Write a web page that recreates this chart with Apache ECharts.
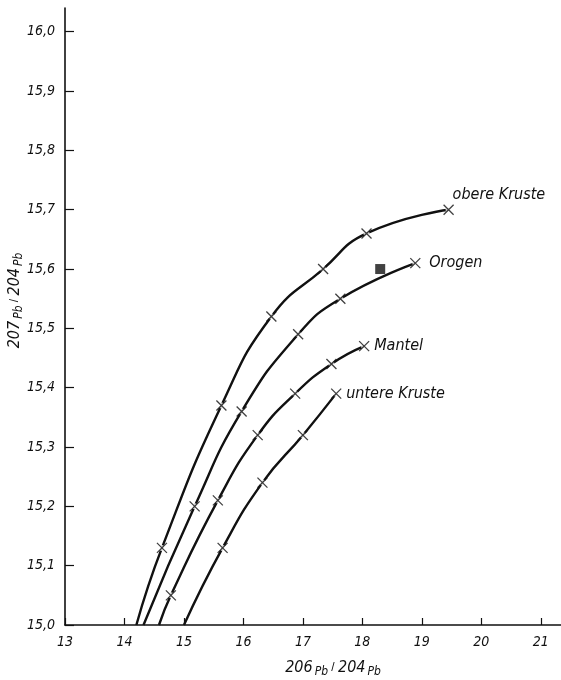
<!DOCTYPE html>
<html>
<head>
<meta charset="utf-8">
<script src="https://cdn.jsdelivr.net/npm/echarts@6/dist/echarts.min.js"></script>
<style>
  html, body { margin: 0; background: #fff; }
  #chart { width: 561px; height: 680px; }
</style>
</head>
<body>
<div id="chart"></div>
<script>
// tick labels
const xTicks = [13, 14, 15, 16, 17, 18, 19, 20, 21];
const yTicks = [15.0, 15.1, 15.2, 15.3, 15.4, 15.5, 15.6, 15.7, 15.8, 15.9, 16.0];

// growth curves: [206Pb/204Pb, 207Pb/204Pb]; first point is where the curve leaves the axis
const obereKruste = [[14.20, 15.00], [14.63, 15.13], [15.63, 15.37], [16.47, 15.52], [17.34, 15.60], [18.07, 15.66], [19.45, 15.70]];
const orogen = [[14.32, 15.00], [15.18, 15.20], [15.97, 15.36], [16.92, 15.49], [17.63, 15.55], [18.89, 15.61]];
const mantel = [[14.58, 15.00], [14.78, 15.05], [15.57, 15.21], [16.24, 15.32], [16.87, 15.39], [17.48, 15.44], [18.03, 15.47]];
const untereKruste = [[15.00, 15.00], [15.65, 15.13], [16.32, 15.24], [17.00, 15.32], [17.56, 15.39]];
const sample = [[18.30, 15.60]];

const curves = [
  { name: 'obere Kruste', data: obereKruste },
  { name: 'Orogen', data: orogen },
  { name: 'Mantel', data: mantel },
  { name: 'untere Kruste', data: untereKruste }
];

// where each curve's name sits relative to its last cross
const LABEL_OFFSET = {
  'obere Kruste': [-6, -15],
  'Orogen': [4, 0],
  'Mantel': [0, 0],
  'untere Kruste': [0, 0]
};

const FONT = '"DejaVu Sans Condensed", "Liberation Sans Narrow", sans-serif';
const CROSS = 'path://M0,0L10,10M10,0L0,10';
const fmt = v => v.toFixed(1).replace('.', ',');

const nameRich = {
  n: { fontFamily: FONT, fontStyle: 'italic', fontSize: 16, color: '#111' },
  p: { fontFamily: FONT, fontStyle: 'italic', fontSize: 12, color: '#111', padding: [8, 0, 0, 2] }
};

const chart = echarts.init(document.getElementById('chart'));

const series = [];
for (const c of curves) {
  series.push({
    name: c.name,
    type: 'line',
    data: c.data,
    smooth: 0.5,
    symbol: 'none',
    lineStyle: { color: '#111', width: 2.4 },
    z: 2,
    endLabel: {
      show: true,
      formatter: c.name,
      color: '#111',
      fontFamily: FONT,
      fontStyle: 'italic',
      fontSize: 16,
      distance: 10,
      offset: LABEL_OFFSET[c.name]
    }
  });
  // small white breaks in the line around each cross
  series.push({
    type: 'scatter',
    data: c.data.slice(1),
    symbol: 'circle',
    symbolSize: 6,
    itemStyle: { color: '#fff' },
    silent: true,
    z: 3
  });
  series.push({
    type: 'scatter',
    data: c.data.slice(1),
    symbol: CROSS,
    symbolSize: 10,
    itemStyle: { color: 'rgba(0,0,0,0)', borderColor: '#111', borderWidth: 1.3 },
    silent: true,
    z: 4
  });
}
series.push({
  type: 'scatter',
  data: sample,
  symbol: 'rect',
  symbolSize: 10,
  itemStyle: { color: '#111' },
  z: 5
});

chart.setOption({
  animation: false,
  backgroundColor: '#fff',
  grid: { left: 65, right: 0, top: 8, bottom: 55, outerBoundsMode: 'none', containLabel: false },
  xAxis: {
    type: 'value',
    min: 13,
    max: 21.34,
    name: '{n|206}{p|Pb} / {n|204}{p|Pb}',
    nameLocation: 'middle',
    nameMoveOverlap: false,
    nameGap: 33,
    nameTextStyle: { padding: [0, 0, 0, 40], rich: nameRich },
    axisLine: { lineStyle: { color: '#111', width: 1.6 } },
    axisTick: { inside: true, length: 7, lineStyle: { color: '#111', width: 1.2 }, customValues: xTicks },
    axisLabel: {
      customValues: xTicks,
      margin: 10,
      color: '#111',
      fontFamily: FONT,
      fontStyle: 'italic',
      fontSize: 14
    },
    splitLine: { show: false }
  },
  yAxis: {
    type: 'value',
    min: 15,
    max: 16.04,
    name: '{n|207}{p|Pb} / {n|204}{p|Pb}',
    nameLocation: 'middle',
    nameRotate: 90,
    nameMoveOverlap: false,
    nameGap: 40,
    nameTextStyle: { padding: [0, 0, 0, 32], rich: nameRich },
    axisLine: { show: true, lineStyle: { color: '#111', width: 1.6 } },
    axisTick: { show: true, inside: true, length: 9, lineStyle: { color: '#111', width: 1.2 }, customValues: yTicks },
    axisLabel: {
      customValues: yTicks,
      formatter: fmt,
      margin: 10,
      color: '#111',
      fontFamily: FONT,
      fontStyle: 'italic',
      fontSize: 14
    },
    splitLine: { show: false }
  },
  series: series
});
</script>
</body>
</html>
